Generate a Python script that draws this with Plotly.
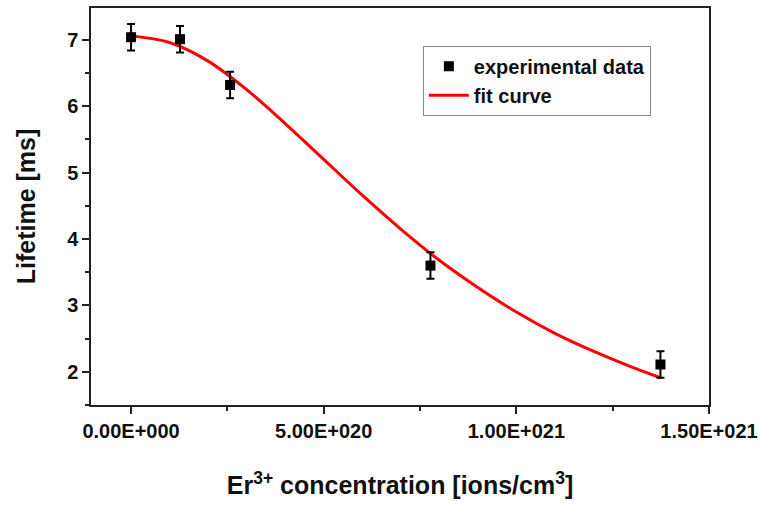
import plotly.graph_objects as go

# Experimental data (Er3+ concentration in ions/cm^3, lifetime in ms)
conc = [0.0, 1.27e20, 2.57e20, 7.77e20, 1.374e21]
lifetime = [7.04, 7.01, 6.32, 3.60, 2.11]
lifetime_err = [0.20, 0.20, 0.20, 0.20, 0.20]

# Fit curve
fit_x = [0.0, 1e20, 2e20, 3e20, 4e20, 5e20, 6e20, 7e20, 8e20, 9e20,
         1.0e21, 1.1e21, 1.2e21, 1.3e21, 1.374e21]
fit_y = [7.06, 6.96, 6.68, 6.25, 5.74, 5.20, 4.66, 4.15, 3.68, 3.27,
         2.90, 2.58, 2.31, 2.07, 1.91]

x_tickvals = [0.0, 5e20, 1e21, 1.5e21]
x_ticktext = ["0.00E+000", "5.00E+020", "1.00E+021", "1.50E+021"]
y_tickvals = [2, 3, 4, 5, 6, 7]

FONT = "Liberation Sans, Arial, sans-serif"

fig = go.Figure()
fig.add_trace(go.Scatter(
    x=fit_x, y=fit_y, mode="lines", name="fit curve",
    line=dict(color="#ff0000", width=3, shape="spline"),
))
fig.add_trace(go.Scatter(
    x=conc, y=lifetime, mode="markers", name="experimental data",
    marker=dict(symbol="square", size=10, color="black"),
    error_y=dict(type="data", array=lifetime_err, visible=True,
                 color="black", thickness=2, width=4),
))

axis_common = dict(
    showline=True, linecolor="#222222", linewidth=1.5, mirror=True,
    ticks="outside", ticklen=7, tickwidth=1.5, tickcolor="#222222",
    showgrid=False, zeroline=False, automargin=False,
    tickfont=dict(family=FONT, size=20, color="#111111", weight="bold"),
)

fig.update_layout(
    width=761, height=506,
    margin=dict(l=91, r=52, t=8, b=101),
    paper_bgcolor="white", plot_bgcolor="white",
    font=dict(family=FONT, color="#111111"),
    showlegend=True,
    legend=dict(
        x=0.537, y=0.905, xanchor="left", yanchor="top",
        bordercolor="#888888", borderwidth=1, bgcolor="white",
        font=dict(family=FONT, size=20, color="#111111", weight="bold"),
        traceorder="reversed", itemwidth=40, tracegroupgap=0,
    ),
    xaxis=dict(
        range=[-1.04e20, 1.5e21],
        tickvals=x_tickvals, ticktext=x_ticktext,
        minor=dict(ticks="outside", ticklen=4, tickwidth=1.5,
                   tickcolor="#222222", dtick=2.5e20, tick0=0),
        title=dict(text="Er<sup>3+</sup> concentration [ions/cm<sup>3</sup>]",
                   font=dict(family=FONT, size=25, color="#111111", weight="bold"),
                   standoff=36),
        **axis_common,
    ),
    yaxis=dict(
        range=[1.5, 7.48],
        tickvals=y_tickvals,
        minor=dict(ticks="outside", ticklen=4, tickwidth=1.5,
                   tickcolor="#222222", dtick=0.5, tick0=0),
        title=dict(text="Lifetime [ms]",
                   font=dict(family=FONT, size=25, color="#111111", weight="bold"),
                   standoff=24),
        **axis_common,
    ),
)

fig.write_html("out.html")
